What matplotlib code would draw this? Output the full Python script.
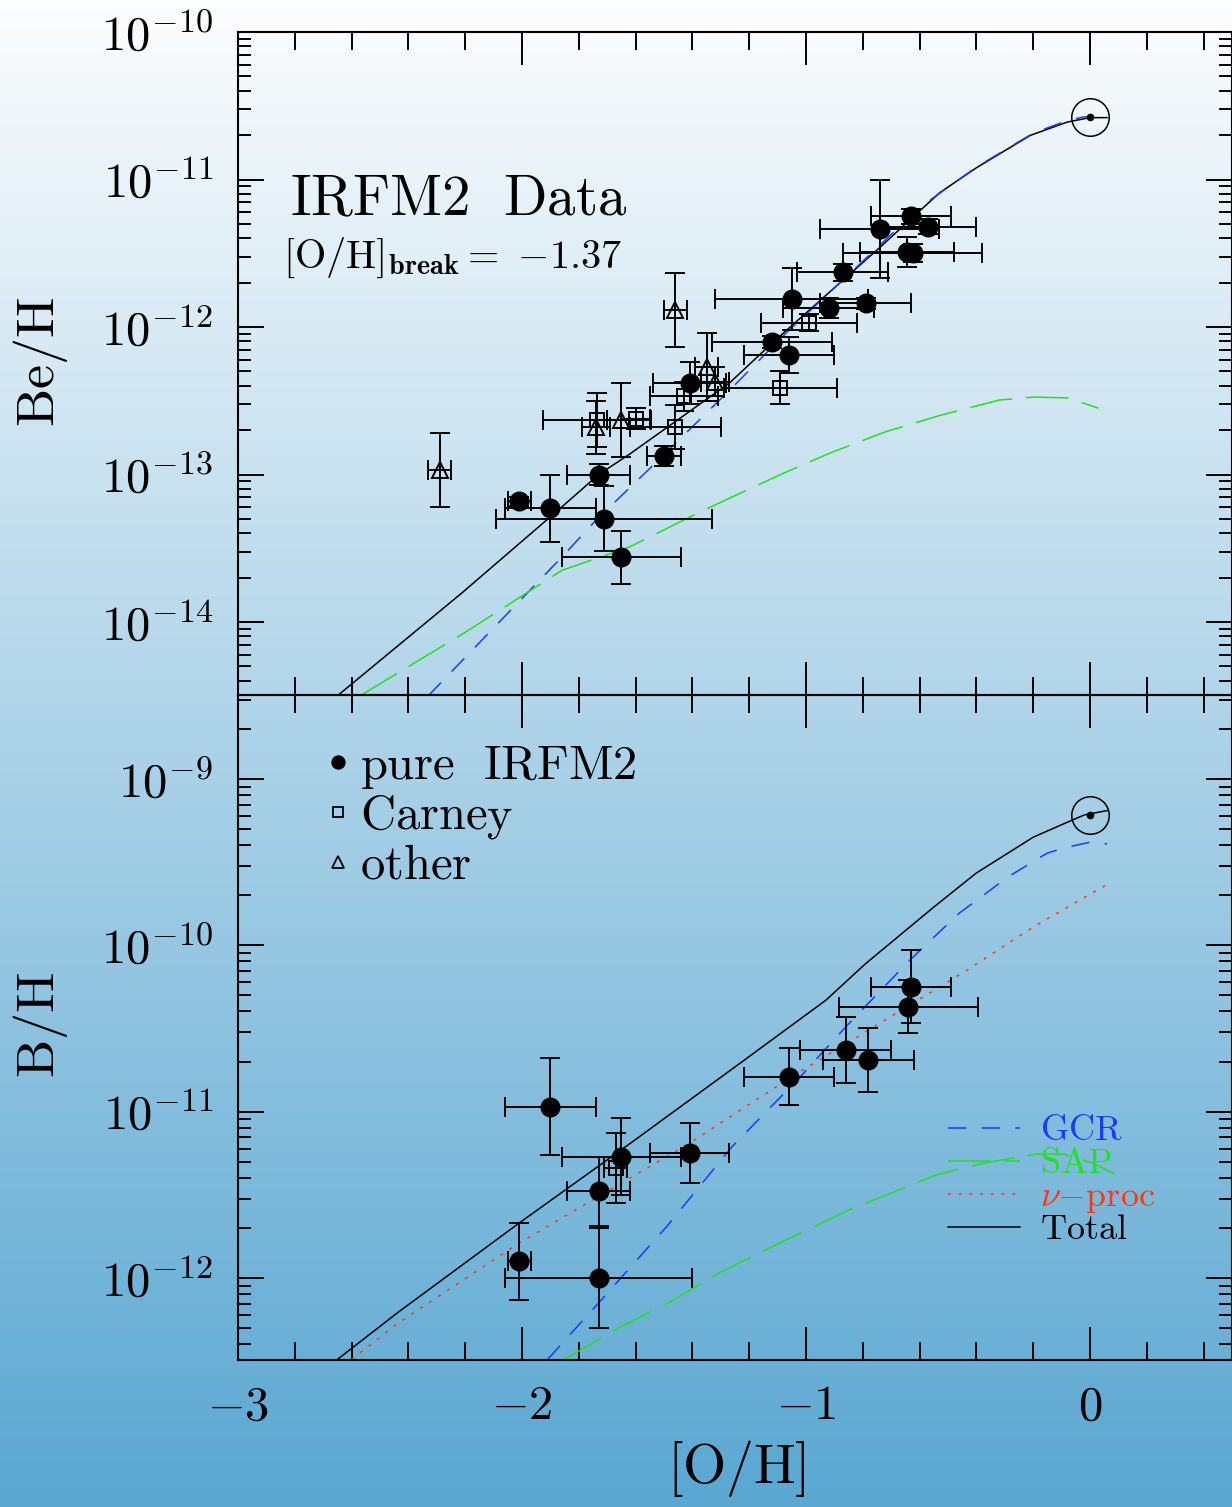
import numpy as np
import matplotlib
matplotlib.use("Agg")
import matplotlib.pyplot as plt
from matplotlib.colors import LinearSegmentedColormap
from matplotlib.ticker import MultipleLocator, FixedLocator, FuncFormatter, NullFormatter

plt.rcParams['mathtext.fontset'] = 'cm'
plt.rcParams['font.family'] = ['DejaVu Serif']

# ---- Be panel data: [O/H], log10(Be/H), xerr, yerr (dex) ----
be_irfm_oh = [-2.01, -1.90, -1.71, -1.73, -1.65, -1.50, -1.41, -1.12, -1.06,
              -1.05, -0.92, -0.87, -0.79, -0.74, -0.63, -0.57, -0.645, -0.625]
be_irfm_log = [-13.18, -13.23, -13.30, -13.00, -13.56, -12.875, -12.38, -12.10, -12.19,
               -11.81, -11.87, -11.63, -11.84, -11.335, -11.25, -11.32, -11.49, -11.50]
be_irfm_xerr = [0.04, 0.16, 0.38, 0.11, 0.21, 0.06, 0.13, 0.21, 0.16,
                0.27, 0.16, 0.16, 0.16, 0.21, 0.14, 0.17, 0.165, 0.245]
be_irfm_yerr = [0.03, 0.23, 0.22, 0.07, 0.18, 0.07, 0.14, 0.04, 0.12,
                0.21, 0.07, 0.06, 0.04, 0.33, 0.05, 0.05, 0.10, 0.06]

be_carney_oh = [-0.99, -1.09, -1.46, -1.43, -1.60, -1.735]
be_carney_log = [-11.97, -12.41, -12.68, -12.47, -12.62, -12.63]
be_carney_xerr = [0.17, 0.20, 0.16, 0.12, 0.05, 0.19]
be_carney_yerr = [0.06, 0.11, 0.15, 0.10, 0.07, 0.18]

be_other_oh = [-2.29, -1.46, -1.35, -1.32, -1.74, -1.65]
be_other_log = [-12.97, -11.885, -12.27, -12.37, -12.68, -12.63]
be_other_xerr = [0.04, 0.04, 0.04, 0.05, 0.05, 0.05]
be_other_yerr = [0.25, 0.25, 0.23, 0.10, 0.18, 0.25]

# ---- B panel data ----
b_irfm_oh = [-1.90, -1.65, -1.73, -2.01, -1.73, -1.41, -1.06, -0.63, -0.64, -0.78, -0.86]
b_irfm_log = [-10.97, -11.27, -11.48, -11.90, -12.00, -11.25, -10.79, -10.25, -10.37, -10.69, -10.63]
b_irfm_xerr = [0.16, 0.21, 0.11, 0.04, 0.33, 0.14, 0.16, 0.14, 0.245, 0.16, 0.16]
b_irfm_yerr = [0.29, 0.23, 0.21, 0.23, 0.30, 0.18, 0.17, 0.22, 0.16, 0.19, 0.20]

b_carney_oh = [-1.67]
b_carney_log = [-11.34]
b_carney_xerr = [0.04]
b_carney_yerr = [0.21]

# solar values
sun_oh = 0.0
sun_be_log = -10.576
sun_b_log = -9.216

# ---- model curves (log10 abundance) ----
be_total_oh = [-2.65, -2.21, -1.86, -1.73, -1.62, -1.27, -1.12, -0.74, -0.53, -0.40, -0.21, -0.08, 0.0, 0.06]
be_total_log = [-14.50, -13.80, -13.22, -13.00, -12.86, -12.38, -12.11, -11.46, -11.09, -10.92, -10.70, -10.61, -10.58, -10.58]
be_gcr_oh = [-2.33, -2.01, -1.86, -1.74, -1.54, -1.27, -1.07, -0.82, -0.60, -0.40, -0.20, -0.08, -0.025, 0.02, 0.06]
be_gcr_log = [-14.50, -13.86, -13.56, -13.31, -12.94, -12.43, -12.04, -11.59, -11.19, -10.915, -10.685, -10.60, -10.576, -10.57, -10.59]
be_sap_oh = [-2.57, -2.20, -1.86, -1.62, -1.38, -1.28, -1.09, -0.91, -0.72, -0.53, -0.32, -0.20, -0.08, 0.03]
be_sap_log = [-14.50, -14.07, -13.65, -13.49, -13.26, -13.17, -13.00, -12.85, -12.71, -12.60, -12.495, -12.475, -12.48, -12.55]

b_total_oh = [-2.65, -2.435, -2.01, -1.61, -1.225, -0.93, -0.79, -0.55, -0.40, -0.20, -0.08, -0.02, 0.06]
b_total_log = [-12.49, -12.205, -11.67, -11.18, -10.70, -10.33, -10.11, -9.77, -9.565, -9.35, -9.26, -9.216, -9.19]
b_gcr_oh = [-1.91, -1.73, -1.49, -1.26, -1.02, -0.86, -0.635, -0.46, -0.29, -0.15, -0.08, 0.0, 0.06]
b_gcr_log = [-12.49, -12.15, -11.69, -11.21, -10.79, -10.49, -10.09, -9.806, -9.59, -9.445, -9.41, -9.38, -9.39]
b_nu_oh = [-2.60, -2.435, -2.01, -1.73, -1.41, -1.05, -0.635, -0.434, -0.20, 0.064]
b_nu_log = [-12.49, -12.27, -11.79, -11.51, -11.19, -10.79, -10.36, -10.15, -9.89, -9.63]
b_sap_oh = [-1.85, -1.67, -1.48, -1.305, -1.117, -0.847, -0.73, -0.54, -0.377, -0.187, -0.095, 0.01, 0.088]
b_sap_log = [-12.49, -12.31, -12.145, -11.97, -11.81, -11.59, -11.51, -11.38, -11.31, -11.255, -11.255, -11.31, -11.375]

be_decades = [-14, -13, -12, -11, -10]
b_decades = [-12, -11, -10, -9]

GCR_C = '#1a3cff'
SAP_C = '#22e022'
NU_C = '#ff3a10'


def draw_points(ax, oh, logy, xerr, yerr, marker, filled, ms):
    y = 10 ** np.array(logy)
    d = np.array(yerr)
    ylo = y - y * 10 ** (-d)
    yhi = y * 10 ** d - y
    ax.errorbar(oh, y, xerr=xerr, yerr=[ylo, yhi], fmt=marker, ms=ms,
                mfc='k' if filled else 'none', mec='k', mew=1.4,
                ecolor='k', elinewidth=1.4, capsize=7, capthick=1.4, zorder=3)


def draw_curve(ax, oh, logy, **kw):
    ax.plot(oh, 10 ** np.array(logy), lw=1.1, **kw)


def style_axes(ax, decades, ylo, yhi, show_xlabels):
    ax.set_facecolor('none')
    ax.set_xlim(-3, 0.5)
    ax.set_yscale('log')
    ax.set_ylim(ylo, yhi)
    ax.xaxis.set_major_locator(MultipleLocator(1))
    ax.xaxis.set_minor_locator(MultipleLocator(0.2))
    majors = [10.0 ** d for d in decades]
    minors = [k * 10.0 ** d for d in range(decades[0] - 1, decades[-1] + 1)
              for k in range(2, 10) if ylo <= k * 10.0 ** d <= yhi]
    ax.yaxis.set_major_locator(FixedLocator(majors))
    ax.yaxis.set_minor_locator(FixedLocator(minors))
    ax.yaxis.set_major_formatter(FuncFormatter(lambda v, p: r'$10^{%d}$' % round(np.log10(v))))
    ax.yaxis.set_minor_formatter(NullFormatter())
    if show_xlabels:
        ax.xaxis.set_major_formatter(FuncFormatter(lambda v, p: r'$%d$' % round(v)))
    else:
        ax.xaxis.set_major_formatter(NullFormatter())
    ax.tick_params(axis='both', which='both', direction='in', top=True, right=True,
                   width=1.4, colors='k', labelsize=35)
    ax.tick_params(axis='x', which='major', length=24, pad=16)
    ax.tick_params(axis='x', which='minor', length=13)
    ax.tick_params(axis='y', which='major', length=19, pad=18)
    ax.tick_params(axis='y', which='minor', length=9.5)
    for s in ax.spines.values():
        s.set_linewidth(1.5)


fig = plt.figure(figsize=(12.32, 15.07), dpi=100)

# gradient background
bg = fig.add_axes([0, 0, 1, 1], zorder=-1)
cmap = LinearSegmentedColormap.from_list('bg', ['#fcfdfe', '#5aa7d2'])
bg.imshow(np.linspace(0, 1, 256).reshape(-1, 1), aspect='auto', cmap=cmap, extent=[0, 1, 0, 1])
bg.axis('off')

ax1 = fig.add_axes([0.1932, 0.5388, 0.8068, 0.4399])
ax2 = fig.add_axes([0.1932, 0.0975, 0.8068, 0.4413])
style_axes(ax1, be_decades, 10 ** -14.495, 1e-10, False)
style_axes(ax2, b_decades, 10 ** -12.494, 10 ** -8.495, True)

# ---- top panel: Be ----
draw_curve(ax1, be_total_oh, be_total_log, color='k')
draw_curve(ax1, be_gcr_oh, be_gcr_log, color=GCR_C, dashes=(12, 10))
draw_curve(ax1, be_sap_oh, be_sap_log, color=SAP_C, dashes=(28, 9))
draw_points(ax1, be_irfm_oh, be_irfm_log, be_irfm_xerr, be_irfm_yerr, 'o', True, 13)
draw_points(ax1, be_carney_oh, be_carney_log, be_carney_xerr, be_carney_yerr, 's', False, 10)
draw_points(ax1, be_other_oh, be_other_log, be_other_xerr, be_other_yerr, '^', False, 12)
ax1.plot([sun_oh], [10 ** sun_be_log], 'o', ms=27, mfc='none', mec='k', mew=1.1)
ax1.plot([sun_oh], [10 ** sun_be_log], 'o', ms=4.5, color='k')

ax1.text(0.052, 0.747, r'$\mathrm{IRFM2\ \ Data}$', transform=ax1.transAxes,
         fontsize=41, ha='left', va='center')
ax1.text(0.045, 0.66, r'$\mathrm{[O/H]}_{\mathbf{break}}\mathrm{=\ {-}1.37}$', transform=ax1.transAxes,
         fontsize=29, ha='left', va='center')

# ---- bottom panel: B ----
draw_curve(ax2, b_total_oh, b_total_log, color='k')
draw_curve(ax2, b_gcr_oh, b_gcr_log, color=GCR_C, dashes=(12, 10))
draw_curve(ax2, b_sap_oh, b_sap_log, color=SAP_C, dashes=(28, 9))
draw_curve(ax2, b_nu_oh, b_nu_log, color=NU_C, dashes=(2, 5))
draw_points(ax2, b_irfm_oh, b_irfm_log, b_irfm_xerr, b_irfm_yerr, 'o', True, 13)
draw_points(ax2, b_carney_oh, b_carney_log, b_carney_xerr, b_carney_yerr, 's', False, 10)
ax2.plot([sun_oh], [10 ** sun_b_log], 'o', ms=27, mfc='none', mec='k', mew=1.1)
ax2.plot([sun_oh], [10 ** sun_b_log], 'o', ms=4.5, color='k')

# symbol key
sym_keys = [('o', 'k', 9, r'$\mathrm{pure\ \ IRFM2}$'),
            ('s', 'none', 7, r'$\mathrm{Carney}$'),
            ('^', 'none', 8, r'$\mathrm{other}$')]
for i, (m, fc, ms, lab) in enumerate(sym_keys):
    yk = 0.899 - i * 0.075
    ax2.plot([0.1006], [yk], m, ms=ms, mfc=fc, mec='k', mew=1.3, transform=ax2.transAxes)
    ax2.text(0.1227, yk - 0.025, lab, transform=ax2.transAxes, fontsize=35,
             ha='left', va='baseline')

# line key
line_keys = [(GCR_C, (12, 10), r'$\mathrm{GCR}$'),
             (SAP_C, (28, 9), r'$\mathrm{SAP}$'),
             (NU_C, (2, 5), r'$\nu{-}\mathrm{proc}$'),
             ('k', None, r'$\mathrm{Total}$')]
for i, (c, dsh, lab) in enumerate(line_keys):
    yk = 0.349 - i * 0.0497
    kw = {'dashes': dsh} if dsh else {}
    ax2.plot([0.714, 0.787], [yk, yk], color=c, lw=1.1, transform=ax2.transAxes, **kw)
    ax2.text(0.807, yk - 0.018, lab, transform=ax2.transAxes, fontsize=26,
             color=c, ha='left', va='baseline')

fig.text(0.033, 0.76, r'$\mathrm{Be/H}$', rotation=90, fontsize=39, ha='center', va='center')
fig.text(0.033, 0.32, r'$\mathrm{B/H}$', rotation=90, fontsize=39, ha='center', va='center')
fig.text(0.598, 0.0255, r'$\mathrm{[O/H]}$', fontsize=40, ha='center', va='center')

fig.savefig('out.png', dpi=100)
